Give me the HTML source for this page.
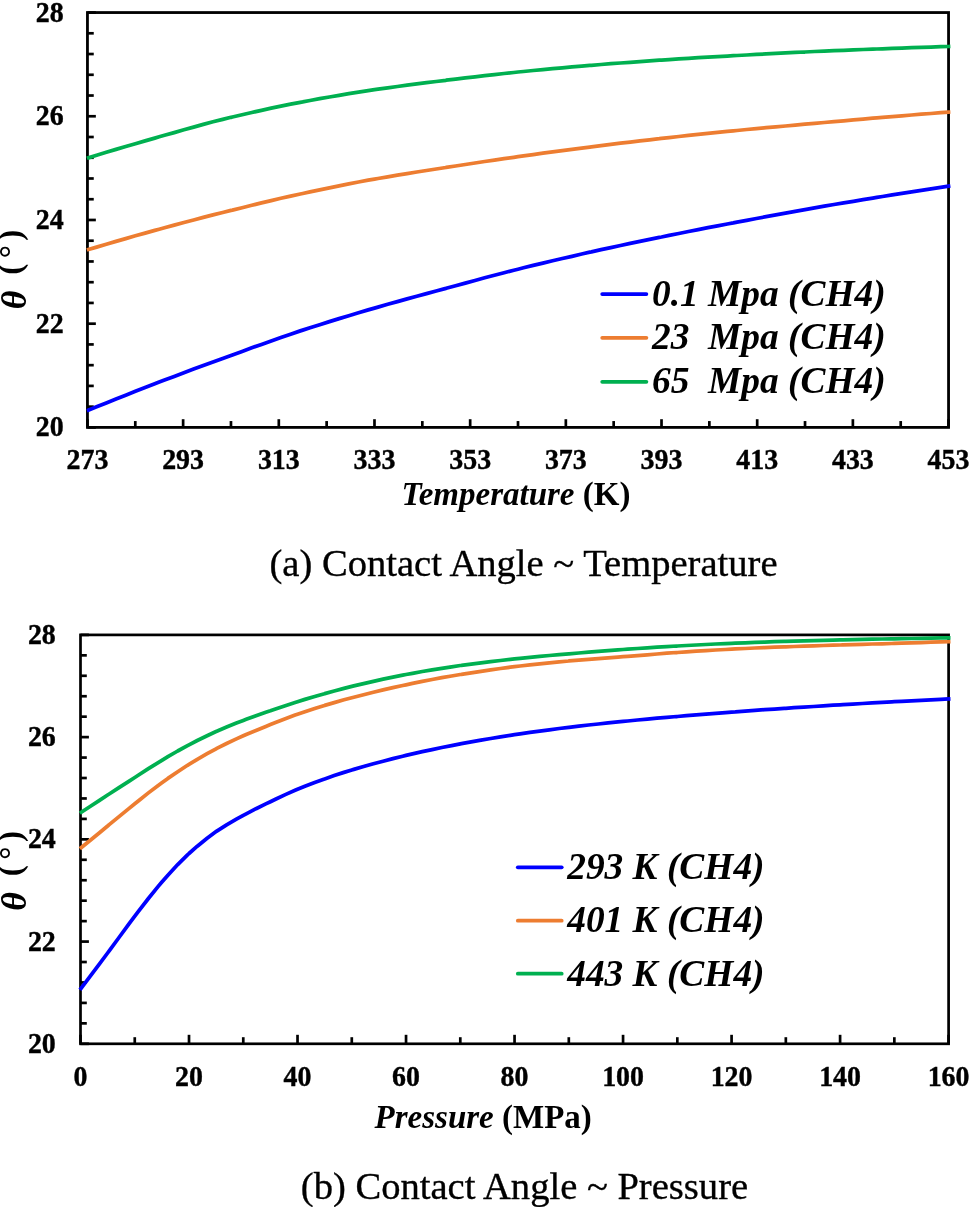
<!DOCTYPE html>
<html lang="en"><head><meta charset="utf-8"><title>Contact angle charts</title>
<style>
html,body{margin:0;padding:0;background:#fff;}
body{width:969px;height:1207px;overflow:hidden;}
svg{display:block}
text{font-family:'Liberation Serif', 'Times New Roman', Times, serif;fill:#000;}
.tk{font-size:27.9px;font-weight:bold;stroke:#000;stroke-width:0.4px;}
.lg{font-size:37.4px;font-weight:bold;font-style:italic;}
.ax{font-size:33.0px;font-weight:bold;}
.bi{font-style:italic;}
.th{font-size:36px;}
.cap{font-size:38.6px;stroke:#000;stroke-width:0.35px;}
</style></head><body>
<svg width="969" height="1207" viewBox="0 0 969 1207">
<rect width="969" height="1207" fill="#fff"/>
<rect x="87.45" y="12.55" width="861.10" height="414.85" fill="none" stroke="#000" stroke-width="2.8"/>
<line x1="87.45" y1="12.55" x2="95.85" y2="12.55" stroke="#000" stroke-width="2.7"/>
<line x1="87.45" y1="33.29" x2="93.75" y2="33.29" stroke="#000" stroke-width="2.7"/>
<line x1="87.45" y1="54.03" x2="93.75" y2="54.03" stroke="#000" stroke-width="2.7"/>
<line x1="87.45" y1="74.78" x2="93.75" y2="74.78" stroke="#000" stroke-width="2.7"/>
<line x1="87.45" y1="95.52" x2="93.75" y2="95.52" stroke="#000" stroke-width="2.7"/>
<line x1="87.45" y1="116.26" x2="95.85" y2="116.26" stroke="#000" stroke-width="2.7"/>
<line x1="87.45" y1="137.00" x2="93.75" y2="137.00" stroke="#000" stroke-width="2.7"/>
<line x1="87.45" y1="157.75" x2="93.75" y2="157.75" stroke="#000" stroke-width="2.7"/>
<line x1="87.45" y1="178.49" x2="93.75" y2="178.49" stroke="#000" stroke-width="2.7"/>
<line x1="87.45" y1="199.23" x2="93.75" y2="199.23" stroke="#000" stroke-width="2.7"/>
<line x1="87.45" y1="219.98" x2="95.85" y2="219.98" stroke="#000" stroke-width="2.7"/>
<line x1="87.45" y1="240.72" x2="93.75" y2="240.72" stroke="#000" stroke-width="2.7"/>
<line x1="87.45" y1="261.46" x2="93.75" y2="261.46" stroke="#000" stroke-width="2.7"/>
<line x1="87.45" y1="282.20" x2="93.75" y2="282.20" stroke="#000" stroke-width="2.7"/>
<line x1="87.45" y1="302.94" x2="93.75" y2="302.94" stroke="#000" stroke-width="2.7"/>
<line x1="87.45" y1="323.69" x2="95.85" y2="323.69" stroke="#000" stroke-width="2.7"/>
<line x1="87.45" y1="344.43" x2="93.75" y2="344.43" stroke="#000" stroke-width="2.7"/>
<line x1="87.45" y1="365.17" x2="93.75" y2="365.17" stroke="#000" stroke-width="2.7"/>
<line x1="87.45" y1="385.91" x2="93.75" y2="385.91" stroke="#000" stroke-width="2.7"/>
<line x1="87.45" y1="406.66" x2="93.75" y2="406.66" stroke="#000" stroke-width="2.7"/>
<line x1="87.45" y1="427.40" x2="95.85" y2="427.40" stroke="#000" stroke-width="2.7"/>
<text transform="translate(63.6,21.6) scale(1,1.075)" text-anchor="end" class="tk">28</text>
<text transform="translate(63.6,125.3) scale(1,1.075)" text-anchor="end" class="tk">26</text>
<text transform="translate(63.6,229.0) scale(1,1.075)" text-anchor="end" class="tk">24</text>
<text transform="translate(63.6,332.7) scale(1,1.075)" text-anchor="end" class="tk">22</text>
<text transform="translate(63.6,436.4) scale(1,1.075)" text-anchor="end" class="tk">20</text>
<line x1="87.45" y1="427.4" x2="87.45" y2="419.20" stroke="#000" stroke-width="2.7"/>
<line x1="135.29" y1="427.4" x2="135.29" y2="421.05" stroke="#000" stroke-width="2.7"/>
<line x1="183.13" y1="427.4" x2="183.13" y2="419.20" stroke="#000" stroke-width="2.7"/>
<line x1="230.97" y1="427.4" x2="230.97" y2="421.05" stroke="#000" stroke-width="2.7"/>
<line x1="278.81" y1="427.4" x2="278.81" y2="419.20" stroke="#000" stroke-width="2.7"/>
<line x1="326.64" y1="427.4" x2="326.64" y2="421.05" stroke="#000" stroke-width="2.7"/>
<line x1="374.48" y1="427.4" x2="374.48" y2="419.20" stroke="#000" stroke-width="2.7"/>
<line x1="422.32" y1="427.4" x2="422.32" y2="421.05" stroke="#000" stroke-width="2.7"/>
<line x1="470.16" y1="427.4" x2="470.16" y2="419.20" stroke="#000" stroke-width="2.7"/>
<line x1="518.00" y1="427.4" x2="518.00" y2="421.05" stroke="#000" stroke-width="2.7"/>
<line x1="565.84" y1="427.4" x2="565.84" y2="419.20" stroke="#000" stroke-width="2.7"/>
<line x1="613.68" y1="427.4" x2="613.68" y2="421.05" stroke="#000" stroke-width="2.7"/>
<line x1="661.52" y1="427.4" x2="661.52" y2="419.20" stroke="#000" stroke-width="2.7"/>
<line x1="709.36" y1="427.4" x2="709.36" y2="421.05" stroke="#000" stroke-width="2.7"/>
<line x1="757.19" y1="427.4" x2="757.19" y2="419.20" stroke="#000" stroke-width="2.7"/>
<line x1="805.03" y1="427.4" x2="805.03" y2="421.05" stroke="#000" stroke-width="2.7"/>
<line x1="852.87" y1="427.4" x2="852.87" y2="419.20" stroke="#000" stroke-width="2.7"/>
<line x1="900.71" y1="427.4" x2="900.71" y2="421.05" stroke="#000" stroke-width="2.7"/>
<line x1="948.55" y1="427.4" x2="948.55" y2="419.20" stroke="#000" stroke-width="2.7"/>
<text transform="translate(87.5,469.4) scale(1,1.075)" text-anchor="middle" class="tk">273</text>
<text transform="translate(183.1,469.4) scale(1,1.075)" text-anchor="middle" class="tk">293</text>
<text transform="translate(278.8,469.4) scale(1,1.075)" text-anchor="middle" class="tk">313</text>
<text transform="translate(374.5,469.4) scale(1,1.075)" text-anchor="middle" class="tk">333</text>
<text transform="translate(470.2,469.4) scale(1,1.075)" text-anchor="middle" class="tk">353</text>
<text transform="translate(565.8,469.4) scale(1,1.075)" text-anchor="middle" class="tk">373</text>
<text transform="translate(661.5,469.4) scale(1,1.075)" text-anchor="middle" class="tk">393</text>
<text transform="translate(757.2,469.4) scale(1,1.075)" text-anchor="middle" class="tk">413</text>
<text transform="translate(852.9,469.4) scale(1,1.075)" text-anchor="middle" class="tk">433</text>
<text transform="translate(948.5,469.4) scale(1,1.075)" text-anchor="middle" class="tk">453</text>
<path d="M86.9,410.8 L87.5,410.6 L96.6,406.8 L106.3,402.9 L116.0,399.0 L125.7,395.2 L135.4,391.3 L145.1,387.6 L154.8,383.8 L159.2,382.1 L164.5,380.1 L174.2,376.4 L183.9,372.7 L193.6,369.1 L203.3,365.5 L213.0,361.9 L222.7,358.4 L231.0,355.4 L232.4,354.9 L242.1,351.4 L251.8,347.8 L261.5,344.4 L271.2,340.9 L280.9,337.5 L290.6,334.2 L300.3,330.9 L302.7,330.1 L310.0,327.8 L319.7,324.7 L329.4,321.6 L339.1,318.6 L348.8,315.7 L358.5,312.8 L368.2,309.9 L374.5,308.1 L378.0,307.1 L387.7,304.3 L397.4,301.6 L407.1,298.9 L416.8,296.2 L426.5,293.6 L436.2,291.0 L445.9,288.4 L446.2,288.3 L455.6,285.7 L465.3,283.1 L475.0,280.5 L484.7,277.8 L494.4,275.3 L504.1,272.7 L513.8,270.2 L518.0,269.2 L523.5,267.8 L533.2,265.4 L542.9,263.1 L552.6,260.8 L562.3,258.5 L572.0,256.3 L581.7,254.0 L589.8,252.2 L591.4,251.9 L601.1,249.7 L610.8,247.6 L620.5,245.5 L630.2,243.4 L639.9,241.4 L649.6,239.4 L659.3,237.4 L661.5,237.0 L669.1,235.4 L678.8,233.5 L688.5,231.5 L698.2,229.6 L707.9,227.7 L717.6,225.9 L727.3,224.0 L733.3,222.9 L737.0,222.1 L746.7,220.3 L756.4,218.5 L766.1,216.7 L775.8,214.9 L785.5,213.1 L795.2,211.3 L804.9,209.6 L805.0,209.6 L814.6,207.9 L824.3,206.2 L834.0,204.5 L843.7,202.9 L853.4,201.3 L863.1,199.7 L872.8,198.1 L876.8,197.4 L882.5,196.5 L892.2,194.9 L901.9,193.4 L911.6,191.8 L921.3,190.3 L931.0,188.8 L940.7,187.3 L948.5,186.2 L950.4,185.9" fill="none" stroke="#0000FF" stroke-width="3.75" stroke-linecap="butt" stroke-linejoin="round"/>
<path d="M86.9,250.0 L87.5,249.8 L96.6,247.1 L106.3,244.2 L116.0,241.4 L125.7,238.6 L135.4,235.8 L145.1,233.1 L154.8,230.4 L159.2,229.2 L164.5,227.7 L174.2,225.1 L183.9,222.5 L193.6,220.0 L203.3,217.4 L213.0,214.9 L222.7,212.5 L231.0,210.4 L232.4,210.1 L242.1,207.7 L251.8,205.3 L261.5,202.9 L271.2,200.6 L280.9,198.3 L290.6,196.1 L300.3,194.0 L302.7,193.5 L310.0,191.9 L319.7,189.8 L329.4,187.8 L339.1,185.8 L348.8,183.9 L358.5,182.0 L368.2,180.2 L374.5,179.1 L378.0,178.5 L387.7,176.8 L397.4,175.1 L407.1,173.6 L416.8,172.0 L426.5,170.5 L436.2,169.0 L445.9,167.5 L446.2,167.4 L455.6,166.0 L465.3,164.5 L475.0,163.0 L484.7,161.5 L494.4,160.1 L504.1,158.7 L513.8,157.3 L518.0,156.7 L523.5,155.9 L533.2,154.6 L542.9,153.2 L552.6,151.9 L562.3,150.6 L572.0,149.4 L581.7,148.1 L589.8,147.1 L591.4,146.9 L601.1,145.6 L610.8,144.4 L620.5,143.2 L630.2,142.1 L639.9,140.9 L649.6,139.8 L659.3,138.7 L661.5,138.4 L669.1,137.6 L678.8,136.5 L688.5,135.4 L698.2,134.4 L707.9,133.4 L717.6,132.4 L727.3,131.4 L733.3,130.8 L737.0,130.5 L746.7,129.5 L756.4,128.6 L766.1,127.7 L775.8,126.9 L785.5,126.0 L795.2,125.1 L804.9,124.2 L805.0,124.2 L814.6,123.4 L824.3,122.5 L834.0,121.6 L843.7,120.8 L853.4,119.9 L863.1,119.1 L872.8,118.2 L876.8,117.9 L882.5,117.4 L892.2,116.6 L901.9,115.8 L911.6,115.0 L921.3,114.2 L931.0,113.5 L940.7,112.7 L948.5,112.1 L950.4,112.0" fill="none" stroke="#ED7D31" stroke-width="3.75" stroke-linecap="butt" stroke-linejoin="round"/>
<path d="M86.9,158.3 L87.5,158.1 L96.6,155.3 L106.3,152.3 L116.0,149.4 L125.7,146.5 L135.4,143.7 L145.1,140.9 L154.8,138.1 L159.2,136.8 L164.5,135.3 L174.2,132.6 L183.9,129.8 L193.6,127.1 L203.3,124.4 L213.0,121.8 L222.7,119.4 L231.0,117.3 L232.4,117.0 L242.1,114.7 L251.8,112.5 L261.5,110.3 L271.2,108.2 L280.9,106.2 L290.6,104.2 L300.3,102.3 L302.7,101.9 L310.0,100.5 L319.7,98.7 L329.4,97.0 L339.1,95.3 L348.8,93.7 L358.5,92.1 L368.2,90.6 L374.5,89.7 L378.0,89.2 L387.7,87.8 L397.4,86.5 L407.1,85.2 L416.8,83.9 L426.5,82.7 L436.2,81.5 L445.9,80.3 L446.2,80.2 L455.6,79.1 L465.3,77.9 L475.0,76.8 L484.7,75.7 L494.4,74.6 L504.1,73.5 L513.8,72.5 L518.0,72.0 L523.5,71.5 L533.2,70.5 L542.9,69.6 L552.6,68.7 L562.3,67.8 L572.0,66.9 L581.7,66.1 L589.8,65.4 L591.4,65.3 L601.1,64.5 L610.8,63.7 L620.5,63.0 L630.2,62.3 L639.9,61.6 L649.6,60.9 L659.3,60.2 L661.5,60.1 L669.1,59.6 L678.8,58.9 L688.5,58.3 L698.2,57.7 L707.9,57.2 L717.6,56.6 L727.3,56.1 L733.3,55.7 L737.0,55.5 L746.7,55.0 L756.4,54.4 L766.1,53.9 L775.8,53.4 L785.5,52.9 L795.2,52.4 L804.9,52.0 L805.0,52.0 L814.6,51.5 L824.3,51.1 L834.0,50.7 L843.7,50.3 L853.4,49.9 L863.1,49.5 L872.8,49.1 L876.8,49.0 L882.5,48.8 L892.2,48.4 L901.9,48.1 L911.6,47.7 L921.3,47.4 L931.0,47.1 L940.7,46.7 L948.5,46.5 L950.4,46.4" fill="none" stroke="#00B050" stroke-width="3.75" stroke-linecap="butt" stroke-linejoin="round"/>
<line x1="602.2" y1="294.0" x2="646.4" y2="294.0" stroke="#0000FF" stroke-width="3.75" stroke-linecap="round"/>
<text x="652.0" y="305.5" class="lg" xml:space="preserve">0.1 Mpa (CH4)</text>
<line x1="602.2" y1="337.8" x2="646.4" y2="337.8" stroke="#ED7D31" stroke-width="3.75" stroke-linecap="round"/>
<text x="652.0" y="349.3" class="lg" xml:space="preserve">23  Mpa (CH4)</text>
<line x1="602.2" y1="381.8" x2="646.4" y2="381.8" stroke="#00B050" stroke-width="3.75" stroke-linecap="round"/>
<text x="652.0" y="393.1" class="lg" xml:space="preserve">65  Mpa (CH4)</text>
<text x="516" y="504.7" text-anchor="middle" class="ax"><tspan class="bi">Temperature</tspan> (K)</text>
<text transform="translate(20.7,309.3) rotate(-90)" class="ax"><tspan class="bi th" dy="5.6">θ</tspan><tspan dy="-5.6" dx="7.5"> (</tspan><tspan dx="5.5" dy="1.6">°</tspan><tspan dx="4.5" dy="-1.6">)</tspan></text>
<text x="523.5" y="575.9" text-anchor="middle" class="cap">(a) Contact Angle ~ Temperature</text>
<rect x="80.5" y="634.9" width="868.10" height="408.90" fill="none" stroke="#000" stroke-width="2.7"/>
<line x1="80.5" y1="634.90" x2="88.90" y2="634.90" stroke="#000" stroke-width="2.7"/>
<line x1="80.5" y1="655.35" x2="86.80" y2="655.35" stroke="#000" stroke-width="2.7"/>
<line x1="80.5" y1="675.79" x2="86.80" y2="675.79" stroke="#000" stroke-width="2.7"/>
<line x1="80.5" y1="696.24" x2="86.80" y2="696.24" stroke="#000" stroke-width="2.7"/>
<line x1="80.5" y1="716.68" x2="86.80" y2="716.68" stroke="#000" stroke-width="2.7"/>
<line x1="80.5" y1="737.12" x2="88.90" y2="737.12" stroke="#000" stroke-width="2.7"/>
<line x1="80.5" y1="757.57" x2="86.80" y2="757.57" stroke="#000" stroke-width="2.7"/>
<line x1="80.5" y1="778.01" x2="86.80" y2="778.01" stroke="#000" stroke-width="2.7"/>
<line x1="80.5" y1="798.46" x2="86.80" y2="798.46" stroke="#000" stroke-width="2.7"/>
<line x1="80.5" y1="818.90" x2="86.80" y2="818.90" stroke="#000" stroke-width="2.7"/>
<line x1="80.5" y1="839.35" x2="88.90" y2="839.35" stroke="#000" stroke-width="2.7"/>
<line x1="80.5" y1="859.79" x2="86.80" y2="859.79" stroke="#000" stroke-width="2.7"/>
<line x1="80.5" y1="880.24" x2="86.80" y2="880.24" stroke="#000" stroke-width="2.7"/>
<line x1="80.5" y1="900.68" x2="86.80" y2="900.68" stroke="#000" stroke-width="2.7"/>
<line x1="80.5" y1="921.13" x2="86.80" y2="921.13" stroke="#000" stroke-width="2.7"/>
<line x1="80.5" y1="941.58" x2="88.90" y2="941.58" stroke="#000" stroke-width="2.7"/>
<line x1="80.5" y1="962.02" x2="86.80" y2="962.02" stroke="#000" stroke-width="2.7"/>
<line x1="80.5" y1="982.46" x2="86.80" y2="982.46" stroke="#000" stroke-width="2.7"/>
<line x1="80.5" y1="1002.91" x2="86.80" y2="1002.91" stroke="#000" stroke-width="2.7"/>
<line x1="80.5" y1="1023.36" x2="86.80" y2="1023.36" stroke="#000" stroke-width="2.7"/>
<line x1="80.5" y1="1043.80" x2="88.90" y2="1043.80" stroke="#000" stroke-width="2.7"/>
<text transform="translate(55.8,643.9) scale(1,1.075)" text-anchor="end" class="tk">28</text>
<text transform="translate(55.8,746.1) scale(1,1.075)" text-anchor="end" class="tk">26</text>
<text transform="translate(55.8,848.3) scale(1,1.075)" text-anchor="end" class="tk">24</text>
<text transform="translate(55.8,950.6) scale(1,1.075)" text-anchor="end" class="tk">22</text>
<text transform="translate(55.8,1052.8) scale(1,1.075)" text-anchor="end" class="tk">20</text>
<line x1="80.50" y1="1043.8" x2="80.50" y2="1034.80" stroke="#000" stroke-width="2.7"/>
<line x1="134.76" y1="1043.8" x2="134.76" y2="1037.20" stroke="#000" stroke-width="2.7"/>
<line x1="189.01" y1="1043.8" x2="189.01" y2="1034.80" stroke="#000" stroke-width="2.7"/>
<line x1="243.27" y1="1043.8" x2="243.27" y2="1037.20" stroke="#000" stroke-width="2.7"/>
<line x1="297.52" y1="1043.8" x2="297.52" y2="1034.80" stroke="#000" stroke-width="2.7"/>
<line x1="351.78" y1="1043.8" x2="351.78" y2="1037.20" stroke="#000" stroke-width="2.7"/>
<line x1="406.04" y1="1043.8" x2="406.04" y2="1034.80" stroke="#000" stroke-width="2.7"/>
<line x1="460.29" y1="1043.8" x2="460.29" y2="1037.20" stroke="#000" stroke-width="2.7"/>
<line x1="514.55" y1="1043.8" x2="514.55" y2="1034.80" stroke="#000" stroke-width="2.7"/>
<line x1="568.81" y1="1043.8" x2="568.81" y2="1037.20" stroke="#000" stroke-width="2.7"/>
<line x1="623.06" y1="1043.8" x2="623.06" y2="1034.80" stroke="#000" stroke-width="2.7"/>
<line x1="677.32" y1="1043.8" x2="677.32" y2="1037.20" stroke="#000" stroke-width="2.7"/>
<line x1="731.58" y1="1043.8" x2="731.58" y2="1034.80" stroke="#000" stroke-width="2.7"/>
<line x1="785.83" y1="1043.8" x2="785.83" y2="1037.20" stroke="#000" stroke-width="2.7"/>
<line x1="840.09" y1="1043.8" x2="840.09" y2="1034.80" stroke="#000" stroke-width="2.7"/>
<line x1="894.34" y1="1043.8" x2="894.34" y2="1037.20" stroke="#000" stroke-width="2.7"/>
<line x1="948.60" y1="1043.8" x2="948.60" y2="1034.80" stroke="#000" stroke-width="2.7"/>
<text transform="translate(80.5,1086.3) scale(1,1.075)" text-anchor="middle" class="tk">0</text>
<text transform="translate(189.0,1086.3) scale(1,1.075)" text-anchor="middle" class="tk">20</text>
<text transform="translate(297.5,1086.3) scale(1,1.075)" text-anchor="middle" class="tk">40</text>
<text transform="translate(406.0,1086.3) scale(1,1.075)" text-anchor="middle" class="tk">60</text>
<text transform="translate(514.5,1086.3) scale(1,1.075)" text-anchor="middle" class="tk">80</text>
<text transform="translate(623.1,1086.3) scale(1,1.075)" text-anchor="middle" class="tk">100</text>
<text transform="translate(731.6,1086.3) scale(1,1.075)" text-anchor="middle" class="tk">120</text>
<text transform="translate(840.1,1086.3) scale(1,1.075)" text-anchor="middle" class="tk">140</text>
<text transform="translate(948.6,1086.3) scale(1,1.075)" text-anchor="middle" class="tk">160</text>
<path d="M79.9,989.8 L80.5,989.0 L89.7,976.9 L99.5,963.9 L107.6,953.0 L109.2,950.8 L119.0,937.5 L128.8,924.1 L134.8,916.2 L138.6,911.2 L148.4,898.5 L158.2,886.4 L161.9,882.0 L167.9,875.2 L177.7,864.6 L187.5,854.9 L189.0,853.5 L197.3,846.2 L207.1,838.3 L216.1,831.6 L216.8,831.1 L226.6,824.8 L236.4,819.1 L243.3,815.3 L246.2,813.8 L256.0,808.7 L265.8,803.9 L270.4,801.7 L275.5,799.2 L285.3,794.6 L295.1,790.3 L297.5,789.3 L304.9,786.3 L314.7,782.5 L324.5,779.0 L324.7,778.9 L334.2,775.6 L344.0,772.4 L351.8,770.0 L353.8,769.4 L363.6,766.5 L373.4,763.8 L383.1,761.2 L392.9,758.6 L402.7,756.2 L406.0,755.4 L412.5,753.9 L422.3,751.7 L432.1,749.6 L441.8,747.5 L451.6,745.6 L460.3,743.9 L461.4,743.7 L471.2,741.9 L481.0,740.1 L490.7,738.5 L500.5,736.9 L510.3,735.3 L514.5,734.7 L520.1,733.8 L529.9,732.4 L539.7,731.1 L549.4,729.8 L559.2,728.5 L568.8,727.3 L569.0,727.3 L578.8,726.1 L588.6,725.0 L598.3,724.0 L608.1,722.9 L617.9,721.9 L623.1,721.4 L627.7,721.0 L637.5,720.0 L647.3,719.1 L657.0,718.2 L666.8,717.4 L676.6,716.5 L677.3,716.5 L686.4,715.7 L696.2,714.9 L705.9,714.1 L715.7,713.4 L725.5,712.6 L731.6,712.1 L735.3,711.9 L745.1,711.1 L754.9,710.4 L764.6,709.7 L774.4,709.1 L784.2,708.4 L785.8,708.3 L794.0,707.7 L803.8,707.1 L813.6,706.5 L823.3,705.8 L833.1,705.2 L840.1,704.8 L842.9,704.6 L852.7,704.1 L862.5,703.5 L872.2,702.9 L882.0,702.4 L891.8,701.8 L894.3,701.7 L901.6,701.3 L911.4,700.8 L921.2,700.3 L930.9,699.8 L940.7,699.3 L948.6,698.9 L950.5,698.8" fill="none" stroke="#0000FF" stroke-width="3.75" stroke-linecap="butt" stroke-linejoin="round"/>
<path d="M79.9,848.8 L80.5,848.3 L89.7,840.7 L99.5,832.7 L107.6,826.0 L109.2,824.6 L119.0,816.6 L128.8,808.6 L134.8,803.8 L138.6,800.7 L148.4,792.9 L158.2,785.4 L161.9,782.7 L167.9,778.4 L177.7,771.7 L187.5,765.3 L189.0,764.4 L197.3,759.3 L207.1,753.7 L216.1,748.8 L216.8,748.4 L226.6,743.5 L236.4,738.9 L243.3,735.8 L246.2,734.5 L256.0,730.4 L265.8,726.4 L270.4,724.6 L275.5,722.6 L285.3,718.7 L295.1,715.0 L297.5,714.2 L304.9,711.7 L314.7,708.5 L324.5,705.5 L324.7,705.4 L334.2,702.6 L344.0,699.8 L351.8,697.7 L353.8,697.2 L363.6,694.7 L373.4,692.2 L383.1,689.9 L392.9,687.6 L402.7,685.5 L406.0,684.8 L412.5,683.4 L422.3,681.4 L432.1,679.5 L441.8,677.7 L451.6,676.0 L460.3,674.5 L461.4,674.4 L471.2,672.8 L481.0,671.3 L490.7,669.9 L500.5,668.5 L510.3,667.2 L514.5,666.7 L520.1,666.0 L529.9,664.9 L539.7,663.8 L549.4,662.8 L559.2,661.9 L568.8,661.0 L569.0,660.9 L578.8,660.1 L588.6,659.3 L598.3,658.6 L608.1,657.9 L617.9,657.1 L623.1,656.7 L627.7,656.4 L637.5,655.6 L647.3,654.8 L657.0,654.0 L666.8,653.2 L676.6,652.5 L677.3,652.5 L686.4,651.9 L696.2,651.2 L705.9,650.6 L715.7,650.0 L725.5,649.5 L731.6,649.1 L735.3,648.9 L745.1,648.5 L754.9,648.0 L764.6,647.6 L774.4,647.2 L784.2,646.8 L785.8,646.8 L794.0,646.5 L803.8,646.1 L813.6,645.8 L823.3,645.5 L833.1,645.2 L840.1,645.0 L842.9,644.9 L852.7,644.6 L862.5,644.3 L872.2,644.0 L882.0,643.8 L891.8,643.5 L894.3,643.4 L901.6,643.2 L911.4,642.9 L921.2,642.6 L930.9,642.2 L940.7,641.9 L948.6,641.7 L950.5,641.6" fill="none" stroke="#ED7D31" stroke-width="3.75" stroke-linecap="butt" stroke-linejoin="round"/>
<path d="M79.9,813.2 L80.5,812.8 L89.7,806.8 L99.5,800.4 L107.6,795.0 L109.2,794.0 L119.0,787.6 L128.8,781.3 L134.8,777.5 L138.6,775.0 L148.4,768.7 L158.2,762.6 L161.9,760.3 L167.9,756.7 L177.7,751.0 L187.5,745.6 L189.0,744.8 L197.3,740.5 L207.1,735.7 L216.1,731.5 L216.8,731.2 L226.6,727.0 L236.4,723.0 L243.3,720.4 L246.2,719.3 L256.0,715.7 L265.8,712.3 L270.4,710.8 L275.5,709.0 L285.3,705.7 L295.1,702.5 L297.5,701.7 L304.9,699.4 L314.7,696.5 L324.5,693.7 L324.7,693.6 L334.2,691.0 L344.0,688.4 L351.8,686.4 L353.8,685.9 L363.6,683.6 L373.4,681.3 L383.1,679.1 L392.9,677.1 L402.7,675.1 L406.0,674.5 L412.5,673.3 L422.3,671.5 L432.1,669.9 L441.8,668.3 L451.6,666.8 L460.3,665.5 L461.4,665.4 L471.2,664.1 L481.0,662.8 L490.7,661.6 L500.5,660.5 L510.3,659.4 L514.5,658.9 L520.1,658.3 L529.9,657.4 L539.7,656.4 L549.4,655.5 L559.2,654.6 L568.8,653.8 L569.0,653.8 L578.8,653.0 L588.6,652.2 L598.3,651.4 L608.1,650.6 L617.9,649.9 L623.1,649.5 L627.7,649.2 L637.5,648.5 L647.3,647.8 L657.0,647.2 L666.8,646.6 L676.6,646.0 L677.3,646.0 L686.4,645.5 L696.2,645.0 L705.9,644.5 L715.7,644.0 L725.5,643.6 L731.6,643.3 L735.3,643.2 L745.1,642.8 L754.9,642.4 L764.6,642.1 L774.4,641.7 L784.2,641.4 L785.8,641.4 L794.0,641.1 L803.8,640.8 L813.6,640.6 L823.3,640.3 L833.1,640.1 L840.1,639.9 L842.9,639.8 L852.7,639.6 L862.5,639.4 L872.2,639.2 L882.0,639.0 L891.8,638.8 L894.3,638.8 L901.6,638.6 L911.4,638.5 L921.2,638.3 L930.9,638.1 L940.7,637.9 L948.6,637.8 L950.5,637.8" fill="none" stroke="#00B050" stroke-width="3.75" stroke-linecap="butt" stroke-linejoin="round"/>
<line x1="517.8" y1="867.3" x2="561.7" y2="867.3" stroke="#0000FF" stroke-width="3.75" stroke-linecap="round"/>
<text x="567.2" y="878.9" class="lg" xml:space="preserve">293 K (CH4)</text>
<line x1="517.8" y1="920.7" x2="561.7" y2="920.7" stroke="#ED7D31" stroke-width="3.75" stroke-linecap="round"/>
<text x="567.2" y="932.3" class="lg" xml:space="preserve">401 K (CH4)</text>
<line x1="517.8" y1="973.7" x2="561.7" y2="973.7" stroke="#00B050" stroke-width="3.75" stroke-linecap="round"/>
<text x="567.2" y="985.8" class="lg" xml:space="preserve">443 K (CH4)</text>
<text x="483.2" y="1127.6" text-anchor="middle" class="ax"><tspan class="bi">Pressure</tspan> (MPa)</text>
<text transform="translate(20.7,910.7) rotate(-90)" class="ax"><tspan class="bi th" dy="5.6">θ</tspan><tspan dy="-5.6" dx="7.5"> (</tspan><tspan dx="5.5" dy="1.6">°</tspan><tspan dx="4.5" dy="-1.6">)</tspan></text>
<text x="524.5" y="1198.8" text-anchor="middle" class="cap">(b) Contact Angle ~ Pressure</text>
</svg>
</body></html>
